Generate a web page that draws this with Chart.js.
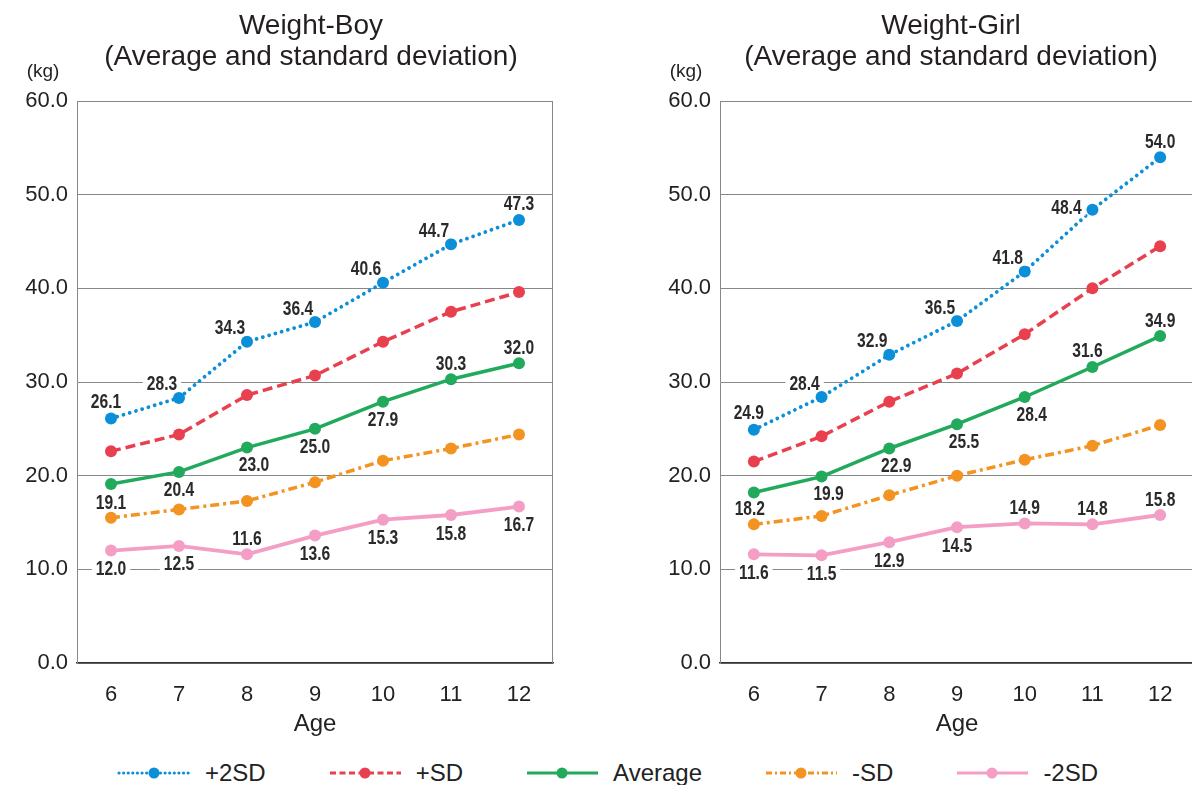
<!DOCTYPE html>
<html><head><meta charset="utf-8">
<script src="https://cdn.jsdelivr.net/npm/chart.js@4.4.1/dist/chart.umd.min.js"></script>
<style>
html,body{margin:0;padding:0;background:#fff;overflow:hidden;width:1192px;height:785px;position:relative}
#c1{position:absolute;left:0;top:0;}
#c2{position:absolute;left:600px;top:0;}
#legend{position:absolute;left:117px;top:758px;height:30px;display:flex;align-items:center;gap:62px;font-family:'Liberation Sans',Arial,sans-serif;font-size:24px;color:#222;white-space:nowrap}
.item{display:flex;align-items:center;gap:13px}
</style></head><body>
<canvas id="c1" width="600" height="745"></canvas>
<canvas id="c2" width="600" height="745"></canvas>
<div id="legend"></div>
<script>
// ---- data ----
const AGES = ['6','7','8','9','10','11','12'];
const SERIES_NAMES = ['+2SD','+SD','Average','-SD','-2SD'];
const BOY_P2SD = [26.1,28.3,34.3,36.4,40.6,44.7,47.3];
const BOY_P1SD = [22.6,24.4,28.6,30.7,34.3,37.5,39.6];
const BOY_AVG  = [19.1,20.4,23.0,25.0,27.9,30.3,32.0];
const BOY_M1SD = [15.5,16.4,17.3,19.3,21.6,22.9,24.4];
const BOY_M2SD = [12.0,12.5,11.6,13.6,15.3,15.8,16.7];
const GIRL_P2SD = [24.9,28.4,32.9,36.5,41.8,48.4,54.0];
const GIRL_P1SD = [21.5,24.2,27.9,30.9,35.1,40.0,44.5];
const GIRL_AVG  = [18.2,19.9,22.9,25.5,28.4,31.6,34.9];
const GIRL_M1SD = [14.8,15.7,17.9,20.0,21.7,23.2,25.4];
const GIRL_M2SD = [11.6,11.5,12.9,14.5,14.9,14.8,15.8];
const Y_MIN = 0, Y_MAX = 60, Y_STEP = 10;
const TITLE_BOY = ['Weight-Boy','(Average and standard deviation)'];
const TITLE_GIRL = ['Weight-Girl','(Average and standard deviation)'];
const Y_UNIT = '(kg)';
const X_TITLE = 'Age';

// ---- label placement codes (style) ----
const OFF = {a:[0,-16], aL:[-5,-17], al:[-17,-14], l:[-26,-2], b:[0,18], br:[7,17], bl:[-4,16]};
const BOY_LBL = {p2:['aL','al','al','al','al','al','a'], avg:['b','b','br','b','b','a','a'], m2:['b','b','a','b','b','b','b']};
const GIRL_LBL = {p2:['aL','al','al','al','al','l','a'], avg:['bl','br','br','br','br','aL','a'], m2:['b','b','b','b','a','a','a']};

const FONT = "'Liberation Sans', Arial, sans-serif";
const STYLES = [
  {color:'#0b8fd8', dash:[0.01,6.5], ldash:[0.01,4.6], cap:'round', width:3.8},
  {color:'#e8404f', dash:[10,5], ldash:[6,3.5], cap:'butt', width:3.5},
  {color:'#21aa5c', dash:[], ldash:[], cap:'butt', width:3.5},
  {color:'#f39322', dash:[9,4,3,4], ldash:[6,3,2,3], cap:'butt', width:3.5},
  {color:'#f49ec6', dash:[], ldash:[], cap:'butt', width:3.8}
];

function ds(i, data, lbl){
  const s = STYLES[i];
  return {label:SERIES_NAMES[i], data, borderColor:s.color, backgroundColor:s.color,
    borderWidth:s.width, borderDash:s.dash, borderCapStyle:s.cap, tension:0,
    pointRadius:6, pointHoverRadius:6, pointBackgroundColor:s.color, pointBorderWidth:0,
    labelPos: lbl || null};
}

const labelPlugin = {
  id:'labels',
  afterDatasetsDraw(chart){
    const ctx = chart.ctx;
    chart.data.datasets.forEach((d,di)=>{
      if(!d.labelPos) return;
      const meta = chart.getDatasetMeta(di);
      meta.data.forEach((pt,i)=>{
        const code = d.labelPos[i]; if(!code) return;
        const o = OFF[code];
        const x = pt.x + o[0], y = pt.y + o[1];
        const txt = d.data[i].toFixed(1);
        ctx.save();
        ctx.font = "bold 20px "+FONT;
        ctx.textAlign='center'; ctx.textBaseline='middle';
        const w = ctx.measureText(txt).width*0.78;
        ctx.fillStyle='#fff';
        ctx.fillRect(x-w/2-4, y-8, w+8, 16);
        ctx.translate(x, y+1);
        ctx.scale(0.78, 1);
        ctx.fillStyle='#2a2a2a';
        ctx.fillText(txt, 0, 0);
        ctx.restore();
      });
    });
  }
};
const framePlugin = {
  id:'frame',
  afterDraw(chart, args, opts){
    const ctx = chart.ctx, a = chart.chartArea;
    ctx.save();
    if(opts.rightBorder){
      ctx.strokeStyle='#888'; ctx.lineWidth=1;
      ctx.beginPath(); ctx.moveTo(Math.round(a.right)-0.5, a.top); ctx.lineTo(Math.round(a.right)-0.5, a.bottom); ctx.stroke();
    }
    ctx.fillStyle='#231f20'; ctx.textAlign='center'; ctx.textBaseline='middle';
    ctx.font = "28px "+FONT;
    const cx = opts.titleX;
    ctx.fillText(opts.title[0], cx, 26);
    ctx.fillText(opts.title[1], cx, 57);
    ctx.font = "19px "+FONT;
    ctx.fillText(Y_UNIT, a.left-34, 72);
    ctx.restore();
  }
};

function makeChart(id, title, sets, yw, padRight, rightBorder, titleX){
  return new Chart(document.getElementById(id), {
    type:'line',
    data:{labels:AGES, datasets:sets},
    plugins:[labelPlugin, framePlugin],
    options:{
      responsive:false, animation:false, events:[],
      layout:{padding:{top:101, right:padRight, left:0, bottom:0}},
      plugins:{legend:{display:false}, tooltip:{enabled:false}, frame:{title, rightBorder, titleX}},
      scales:{
        x:{type:'category', offset:true,
          grid:{display:false},
          border:{display:true, color:'#333', width:1.5},
          ticks:{color:'#222', font:{family:FONT, size:22}, padding:11, maxRotation:0},
          title:{display:true, text:X_TITLE, color:'#222', font:{family:FONT, size:24}, padding:{top:4,bottom:6}},
          afterFit(s){ s.height = 82; }
        },
        y:{min:Y_MIN, max:Y_MAX,
          grid:{color:'#888', lineWidth:1, drawTicks:false},
          border:{display:true, color:'#888', width:1},
          ticks:{stepSize:Y_STEP, color:'#222', font:{family:FONT, size:22}, padding:9,
            callback:v=>Number(v).toFixed(1)},
          afterFit(s){ s.width = yw; }
        }
      }
    }
  });
}

makeChart('c1', TITLE_BOY, [
  ds(0,BOY_P2SD,BOY_LBL.p2), ds(1,BOY_P1SD), ds(2,BOY_AVG,BOY_LBL.avg), ds(3,BOY_M1SD), ds(4,BOY_M2SD,BOY_LBL.m2)
], 77, 47, true, 311);
makeChart('c2', TITLE_GIRL, [
  ds(0,GIRL_P2SD,GIRL_LBL.p2), ds(1,GIRL_P1SD), ds(2,GIRL_AVG,GIRL_LBL.avg), ds(3,GIRL_M1SD), ds(4,GIRL_M2SD,GIRL_LBL.m2)
], 120, 0, false, 351);

// legend
const lg = document.getElementById('legend');
SERIES_NAMES.forEach((n,i)=>{
  const s = STYLES[i];
  const it = document.createElement('div'); it.className='item';
  const dash = s.ldash.length ? s.ldash.join(' ') : 'none';
  it.innerHTML = `<svg width="75" height="16"><line x1="2" y1="8" x2="73" y2="8" stroke="${s.color}" stroke-width="${s.cap==='round'?3.2:2.8}" stroke-dasharray="${dash}" stroke-linecap="${s.cap}"/><circle cx="37" cy="8" r="5.5" fill="${s.color}"/></svg><span>${n}</span>`;
  lg.appendChild(it);
});
</script>
</body></html>
